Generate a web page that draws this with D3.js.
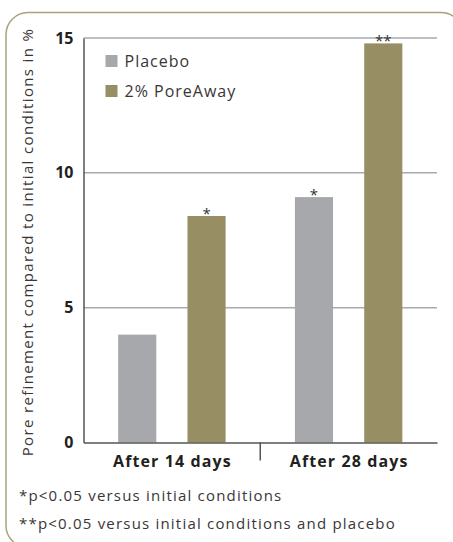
<!DOCTYPE html>
<html>
<head>
<meta charset="utf-8">
<script src="https://cdn.jsdelivr.net/npm/d3@7"></script>
<style>
  body { margin: 0; background: #fff; }
  text { font-family: "Open Sans", sans-serif; fill: #231f20; }
</style>
</head>
<body>
<div id="chart"></div>
<script>
// chart values
var groups = ["After 14 days", "After 28 days"];
var seriesNames = ["Placebo", "2% PoreAway"];
var placeboValues = [4.0, 9.1];
var poreAwayValues = [8.4, 14.8];
var significance = [["", "*"], ["*", "**"]];
var yTicks = [0, 5, 10, 15];
var footnotes = ["*p<0.05 versus initial conditions",
                 "**p<0.05 versus initial conditions and placebo"];

var W = 453, H = 542;
var margin = {top: 38, right: 16, bottom: 99.5, left: 83.5};
var width = W - margin.left - margin.right,
    height = H - margin.top - margin.bottom;

var color = d3.scaleOrdinal().domain(seriesNames).range(["#a7a8ab", "#978e63"]);

var svg = d3.select("#chart").append("svg")
  .attr("width", W)
  .attr("height", H);

// rounded frame, runs off the right and bottom edges
svg.append("rect")
  .attr("x", 6).attr("y", 12.5)
  .attr("width", 457).attr("height", 535)
  .attr("rx", 22).attr("ry", 22)
  .style("fill", "none")
  .style("stroke", "#aaa27a")
  .style("stroke-width", 1.5);

var g = svg.append("g")
  .attr("transform", "translate(" + margin.left + "," + margin.top + ")");

var y = d3.scaleLinear().domain([0, 15]).range([height, 0]);

var x0 = d3.scaleBand().domain(groups).range([0, width]).padding(0);
var x1 = d3.scaleBand().domain(seriesNames).range([0, x0.bandwidth()])
  .paddingInner(0.45).paddingOuter(0.5);

// gridlines
g.selectAll(".grid")
  .data(yTicks.filter(function (d) { return d > 0; }))
  .enter().append("line")
  .attr("class", "grid")
  .attr("x1", 0).attr("x2", width)
  .attr("y1", function (d) { return y(d); })
  .attr("y2", function (d) { return y(d); })
  .style("stroke", "#a9aaad")
  .style("stroke-width", 1.5);

// bars
var data = groups.map(function (grp, i) {
  return [
    {group: grp, series: seriesNames[0], value: placeboValues[i], sig: significance[i][0]},
    {group: grp, series: seriesNames[1], value: poreAwayValues[i], sig: significance[i][1]}
  ];
});

var grp = g.selectAll(".group")
  .data(data)
  .enter().append("g")
  .attr("class", "group")
  .attr("transform", function (d) { return "translate(" + x0(d[0].group) + ",0)"; });

grp.selectAll("rect")
  .data(function (d) { return d; })
  .enter().append("rect")
  .attr("x", function (d) { return x1(d.series); })
  .attr("width", x1.bandwidth())
  .attr("y", function (d) { return y(d.value); })
  .attr("height", function (d) { return height - y(d.value); })
  .style("fill", function (d) { return color(d.series); });

grp.selectAll(".sig")
  .data(function (d) { return d; })
  .enter().append("text")
  .attr("class", "sig")
  .attr("x", function (d) { return x1(d.series) + x1.bandwidth() / 2; })
  .attr("y", function (d) { return y(d.value) + 3; })
  .attr("text-anchor", "middle")
  .style("font-size", "15px")
  .style("fill", "#333")
  .text(function (d) { return d.sig; });

// y axis
var yAxis = g.append("g")
  .call(d3.axisLeft(y).tickValues(yTicks).tickSize(0).tickPadding(10));
yAxis.select(".domain").style("stroke", "#555").style("stroke-width", 1.5);
yAxis.selectAll("text")
  .style("font-size", "16px")
  .style("font-weight", "bold")
  .style("fill", "#231f20");

// x axis
var xAxis = g.append("g")
  .attr("transform", "translate(0," + height + ")")
  .call(d3.axisBottom(x0).tickSize(0).tickPadding(13));
xAxis.select(".domain").style("stroke", "#555").style("stroke-width", 1.5);
xAxis.selectAll("text")
  .attr("dx", "0.5px")
  .style("font-size", "16px")
  .style("font-weight", "bold")
  .style("letter-spacing", "1.1px")
  .style("fill", "#231f20");

// separator tick between groups
g.append("line")
  .attr("x1", x0.bandwidth()).attr("x2", x0.bandwidth())
  .attr("y1", height).attr("y2", height + 18)
  .style("stroke", "#555")
  .style("stroke-width", 1.5);

// y title
svg.append("text")
  .attr("transform", "translate(33,242) rotate(-90)")
  .attr("text-anchor", "middle")
  .style("font-size", "15px")
  .style("letter-spacing", "1.35px")
  .style("fill", "#3a3637")
  .text("Pore refinement compared to initial conditions in %");

// legend
var legend = g.selectAll(".legend")
  .data(seriesNames)
  .enter().append("g")
  .attr("class", "legend")
  .attr("transform", function (d, i) { return "translate(22," + (17 + i * 30) + ")"; });

legend.append("rect")
  .attr("width", 12).attr("height", 12)
  .style("fill", function (d) { return color(d); });

legend.append("text")
  .attr("x", 19).attr("y", 12)
  .style("font-size", "16px")
  .style("letter-spacing", "1px")
  .style("fill", "#3a3637")
  .text(function (d) { return d; });

// footnotes
svg.selectAll(".foot")
  .data(footnotes)
  .enter().append("text")
  .attr("class", "foot")
  .attr("x", 19)
  .attr("y", function (d, i) { return 501 + i * 28; })
  .style("font-size", "15px")
  .style("letter-spacing", "1.2px")
  .style("fill", "#3a3637")
  .text(function (d) { return d; });
</script>
</body>
</html>
